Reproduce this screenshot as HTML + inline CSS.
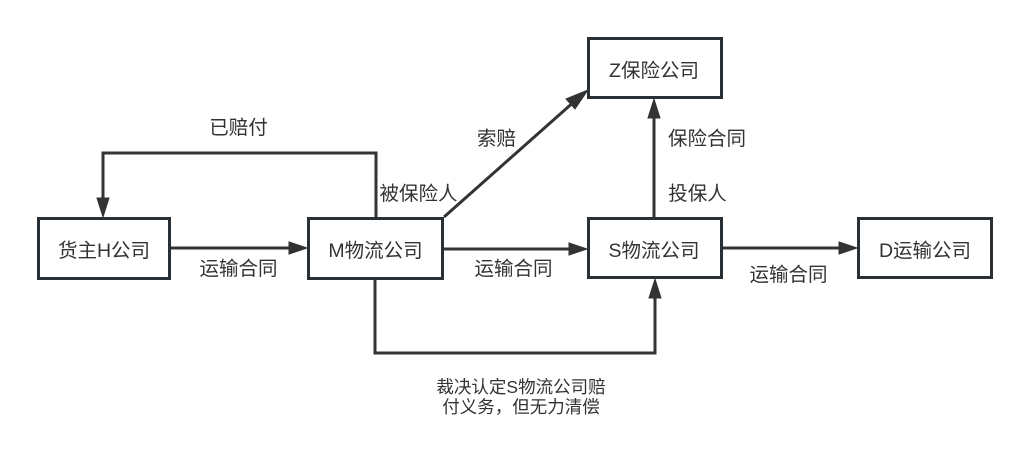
<!DOCTYPE html>
<html><head><meta charset="utf-8"><style>
html,body{margin:0;padding:0;background:#fff;}
svg{display:block;}
text{font-family:"Liberation Sans","Noto Sans CJK SC",sans-serif;fill:#333;}
</style></head><body>
<svg width="1029" height="469" viewBox="0 0 1029 469" xmlns="http://www.w3.org/2000/svg">
<g fill="none" stroke="#333" stroke-width="3">
  <line x1="170" y1="248" x2="292" y2="248"/>
  <polyline points="376,217 376,153 103,153 103,200"/>
  <line x1="444" y1="217" x2="576" y2="100"/>
  <line x1="444" y1="249" x2="572" y2="249"/>
  <line x1="654" y1="217" x2="654" y2="114"/>
  <line x1="723" y1="248" x2="842" y2="248"/>
  <polyline points="375,280 375,353 655,353 655,296"/>
</g>
<g fill="#333" stroke="#333" stroke-width="1">
  <polygon points="307,248 289,242 289,254"/>
  <polygon points="103,217 97,198 109,198"/>
  <polygon points="588,90 566,99 575,109"/>
  <polygon points="587,249 569,243 569,255"/>
  <polygon points="654,99 648,118 660,118"/>
  <polygon points="857,248 839,242 839,254"/>
  <polygon points="655,279 649,298 661,298"/>
</g>
<g fill="#fff" stroke="#2a2f33" stroke-width="3">
  <rect x="38.5" y="218.5" width="131" height="60"/>
  <rect x="308.5" y="218.5" width="134" height="60"/>
  <rect x="588.5" y="38.5" width="133" height="59"/>
  <rect x="588.5" y="218.5" width="133" height="59"/>
  <rect x="858.5" y="218.5" width="133" height="59"/>
</g>
<g font-size="19.5" text-anchor="middle">
  <text x="104" y="257">货主H公司</text>
  <text x="375.5" y="257">M物流公司</text>
  <text x="654" y="77">Z保险公司</text>
  <text x="654" y="257">S物流公司</text>
  <text x="925" y="257">D运输公司</text>
</g>
<g font-size="19.5" text-anchor="middle">
  <text x="238.5" y="134">已赔付</text>
  <text x="418.5" y="200">被保险人</text>
  <text x="238.5" y="275">运输合同</text>
  <text x="496.5" y="145">索赔</text>
  <text x="707" y="145">保险合同</text>
  <text x="697.5" y="200">投保人</text>
  <text x="513.5" y="275">运输合同</text>
  <text x="788.5" y="281">运输合同</text>
</g>
<g font-size="17.5" text-anchor="middle">
  <text x="521" y="393">裁决认定S物流公司赔</text>
  <text x="521" y="413">付义务，但无力清偿</text>
</g>
</svg>
</body></html>
